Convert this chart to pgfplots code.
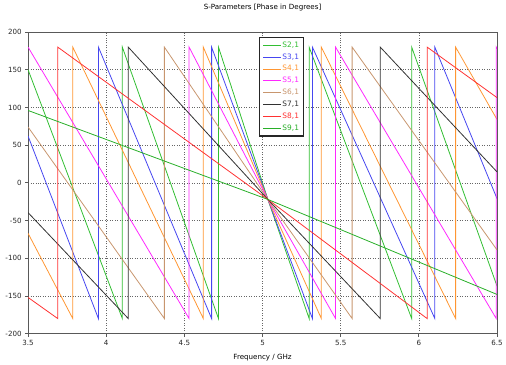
\documentclass[border=0pt]{standalone}
\usepackage{pgfplots}
\pgfplotsset{compat=1.18}
\usepackage{fontspec}
\setmainfont{DejaVu Sans}
\definecolor{cA}{RGB}{50,190,50}
\definecolor{cB}{RGB}{70,70,240}
\definecolor{cC}{RGB}{255,150,50}
\definecolor{cD}{RGB}{255,40,255}
\definecolor{cE}{RGB}{200,150,110}
\definecolor{cF}{RGB}{50,50,50}
\definecolor{cG}{RGB}{255,50,50}
\definecolor{cH}{RGB}{40,175,40}
\begin{document}
\begin{tikzpicture}
\begin{axis}[
  scale only axis, width=472.7bp, height=304bp,
  xmin=3.5, xmax=6.5, ymin=-200, ymax=200,
  xtick={3.5,4,4.5,5,5.5,6,6.5},
  ytick={-200,-150,-100,-50,0,50,100,150,200},
  grid=major,
  grid style={black!60, dash pattern=on 1bp off 1.5bp, line width=0.5bp},
  axis line style={black!65, line width=1bp},
  tick align=outside, tick pos=left, major tick length=3bp,
  tick style={black!65, line width=0.8bp},
  /pgf/number format/assume math mode=true,
  tick label style={font=\fontsize{7.2}{8}\selectfont, text=black!85},
  xlabel={Frequency / GHz},
  xlabel style={font=\fontsize{7.2}{8}\selectfont, at={(axis description cs:0.5,0)}, anchor=center, yshift=-24.4bp},
  title={S-Parameters [Phase in Degrees]},
  title style={font=\fontsize{7.2}{8}\selectfont, at={(axis description cs:0.5,1)}, anchor=center, yshift=18.3bp},
  legend style={at={(0.4917,0.9836)}, anchor=north west, draw=black!85, line width=1.4bp, fill=white,
    font=\fontsize{7.5}{8}\selectfont, inner xsep=3.5bp, inner ysep=2.5bp, row sep=2bp,
    nodes={inner sep=1bp, text height=6bp, text depth=2bp}},
  legend cell align=left,
  legend image code/.code={\draw[#1, line width=0.8bp] (0bp,0bp) -- (18bp,0bp);},
  every axis plot/.append style={line width=0.8bp},
]
\addplot[cA] coordinates {(3.5,150) (4.103,-180) (4.103,180) (4.718,-180) (4.718,180) (5.034,-22) (5.298,-180) (5.298,180) (5.954,-180) (5.954,180) (6.5,-137)};
\addlegendentry{\textcolor{cA}{S2,1}}
\addplot[cB] coordinates {(3.5,62) (3.950,-180) (3.950,180) (4.674,-180) (4.674,180) (5.034,-22) (5.319,-180) (5.319,180) (6.102,-180) (6.102,180) (6.5,-21)};
\addlegendentry{\textcolor{cB}{S3,1}}
\addplot[cC] coordinates {(3.5,-67) (3.786,-180) (3.786,180) (4.621,-180) (4.621,180) (5.034,-22) (5.376,-180) (5.376,180) (6.235,-180) (6.235,180) (6.5,84)};
\addlegendentry{\textcolor{cC}{S4,1}}
\addplot[cD] coordinates {(3.5,180) (4.530,-180) (4.530,180) (5.034,-22) (5.467,-180) (5.467,180) (6.495,-180) (6.495,180) (6.5,178)};
\addlegendentry{\textcolor{cD}{S5,1}}
\addplot[cE] coordinates {(3.5,74) (4.372,-180) (4.372,180) (5.034,-22) (5.573,-180) (5.573,180) (6.5,-89)};
\addlegendentry{\textcolor{cE}{S6,1}}
\addplot[cF] coordinates {(3.5,-39.5) (4.141,-180) (4.141,180) (5.034,-22) (5.753,-180) (5.753,180) (6.5,14.5)};
\addlegendentry{\textcolor{cF}{S7,1}}
\addplot[cG] coordinates {(3.5,-152) (3.690,-180) (3.690,180) (5.034,-22) (6.053,-180) (6.053,180) (6.5,113)};
\addlegendentry{\textcolor{cG}{S8,1}}
\addplot[cH] coordinates {(3.5,96) (5.034,-22) (6.5,-148)};
\addlegendentry{\textcolor{cH}{S9,1}}
\end{axis}
\path[use as bounding box] ([shift={(-28.3bp,-29.7bp)}]current axis.south west) rectangle ([shift={(477.7bp,336.3bp)}]current axis.south west);
\end{tikzpicture}
\end{document}
